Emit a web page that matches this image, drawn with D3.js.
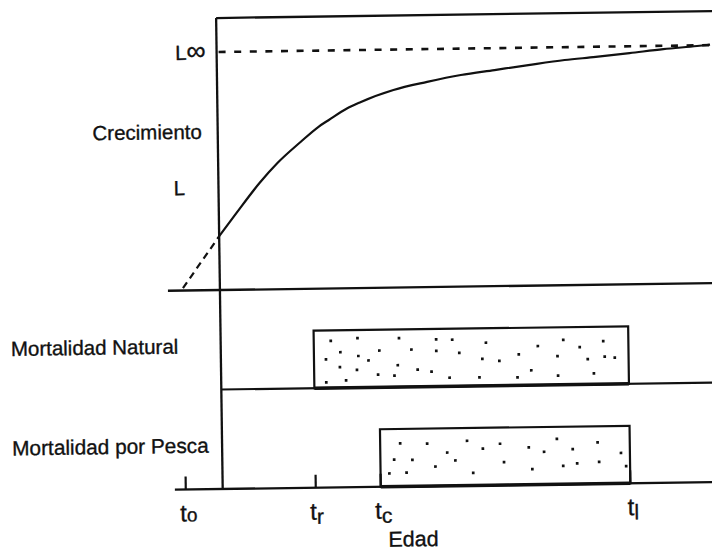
<!DOCTYPE html>
<html>
<head>
<meta charset="utf-8">
<script src="https://cdn.jsdelivr.net/npm/d3@7"></script>
<style>
  html, body { margin: 0; padding: 0; background: #fff; }
  text { font-family: 'Liberation Sans', Arial, sans-serif; fill: #111; stroke: #111; stroke-width: 0.35px; }
</style>
</head>
<body>
<svg id="chart" width="712" height="552"></svg>
<script>
// growth curve (age units are arbitrary, L in % of L-infinity)
const growthAges    = [0, 1.4, 2.1, 3.0, 3.7, 4.6, 5.3, 5.7, 6.4, 6.9, 8.2, 9.5, 10.8, 12.1, 13.4, 14.8, 16.0, 17.3, 18.6, 19.9, 20.4]
const growthLengths = [1, 22.3, 32.3, 44.7, 53.0, 61.7, 68.0, 70.8, 75.5, 78.0, 83.0, 86.2, 88.9, 90.8, 92.7, 94.6, 95.7, 97.1, 98.6, 99.7, 100.2]
const lInf = 100

// ages marked on the x axis
const tickNames = ['t', 't', 't', 't']
const tickSubs  = ['o', 'r', 'c', 'l']
const tickAges  = [0, 5, 7.5, 17.1]

// mortality bars
const mortalityRows  = ['Mortalidad Natural', 'Mortalidad por Pesca']
const mortalityStart = [5, 7.5]
const mortalityEnd   = [17.1, 17.1]

// stipple inside the bars, as fractions of the bar (u across, v down)
const naturalDotsU = [0.054, 0.084, 0.038, 0.139, 0.208, 0.141, 0.173, 0.082, 0.136, 0.266, 0.271, 0.038, 0.101, 0.203, 0.255, 0.31, 0.389, 0.389, 0.44, 0.462, 0.547, 0.535, 0.589, 0.651, 0.712, 0.793, 0.774, 0.845, 0.87, 0.92, 0.924, 0.956, 0.329, 0.373, 0.43, 0.525, 0.646, 0.69, 0.775, 0.889]
const naturalDotsV = [0.18, 0.38, 0.5, 0.14, 0.36, 0.45, 0.53, 0.64, 0.69, 0.62, 0.15, 0.9, 0.87, 0.78, 0.8, 0.35, 0.18, 0.38, 0.19, 0.42, 0.25, 0.53, 0.57, 0.46, 0.32, 0.22, 0.5, 0.35, 0.56, 0.25, 0.52, 0.54, 0.7, 0.74, 0.85, 0.85, 0.86, 0.74, 0.84, 0.81]
const fishingDotsU = [0.08, 0.188, 0.055, 0.128, 0.035, 0.104, 0.22, 0.268, 0.3, 0.348, 0.411, 0.371, 0.48, 0.495, 0.595, 0.656, 0.608, 0.708, 0.771, 0.732, 0.788, 0.871, 0.876, 0.964, 0.984]
const fishingDotsV = [0.25, 0.26, 0.53, 0.54, 0.77, 0.76, 0.66, 0.42, 0.56, 0.22, 0.36, 0.78, 0.28, 0.6, 0.35, 0.43, 0.73, 0.21, 0.39, 0.68, 0.64, 0.28, 0.62, 0.47, 0.7]

const drawChart = () => {
  var svg = d3.select('#chart')

  // the scan is a little tilted, so the whole drawing is turned by the same amount
  var g = svg.append('g').attr('transform', 'rotate(-0.8, 220, 290)')

  var x = d3.scaleLinear().domain([0, 20]).range([183, 703])
  var y = d3.scaleLinear().domain([0, lInf]).range([290, 52])
  var axisAge = 1.42

  var top = 18, growthBase = y(0), bottom = 489
  var rows = d3.scaleBand().domain(mortalityRows).range([growthBase, bottom])
  var barGap = 42

  var ink = '#111'
  var hline = (x0, x1, yy, w) => g.append('line')
    .attr('x1', x0).attr('x2', x1).attr('y1', yy).attr('y2', yy)
    .attr('stroke', ink).attr('stroke-width', w)

  // frame
  hline(x(axisAge), 720, top, 2.3)
  hline(x(-0.58), 720, growthBase, 2.3)
  hline(x(axisAge), 720, rows.bandwidth() + growthBase, 2.2)
  hline(x(-0.42), 720, bottom, 2.3)
  g.append('line')
    .attr('x1', x(axisAge)).attr('x2', x(axisAge))
    .attr('y1', top).attr('y2', bottom)
    .attr('stroke', ink).attr('stroke-width', 2.3)

  // L infinity
  g.append('line')
    .attr('x1', x(axisAge) + 2).attr('x2', 720)
    .attr('y1', y(lInf)).attr('y2', y(lInf))
    .attr('stroke', ink).attr('stroke-width', 2.6)
    .attr('stroke-dasharray', '7,8.6')

  // growth curve, dashed before the axis
  var pts = growthAges.map((a, i) => [a, growthLengths[i]])
  var line = d3.line().x(d => x(d[0])).y(d => y(d[1])).curve(d3.curveMonotoneX)
  g.append('path')
    .attr('d', line(pts.filter(d => d[0] <= axisAge)))
    .attr('fill', 'none').attr('stroke', ink).attr('stroke-width', 2.2)
    .attr('stroke-dasharray', '7,5')
  g.append('path')
    .attr('d', line(pts.filter(d => d[0] >= 1.4)))
    .attr('fill', 'none').attr('stroke', ink).attr('stroke-width', 2.2)

  // mortality bars
  var dots = [[naturalDotsU, naturalDotsV], [fishingDotsU, fishingDotsV]]
  mortalityRows.forEach((name, i) => {
    var y0 = rows(name) + barGap, y1 = rows(name) + rows.bandwidth()
    g.append('rect')
      .attr('x', x(mortalityStart[i])).attr('y', y0)
      .attr('width', x(mortalityEnd[i]) - x(mortalityStart[i]))
      .attr('height', y1 - y0)
      .attr('fill', '#fff').attr('stroke', ink).attr('stroke-width', 2.2)
    hline(x(mortalityStart[i]), x(mortalityEnd[i]), y1, 3.4)

    var u = d3.scaleLinear().range([x(mortalityStart[i]), x(mortalityEnd[i])])
    var v = d3.scaleLinear().range([y0, y1])
    g.selectAll('.dot' + i)
      .data(dots[i][0])
      .enter().append('rect')
      .attr('class', 'dot' + i)
      .attr('x', (d, j) => u(d) - 1.3)
      .attr('y', (d, j) => v(dots[i][1][j]) - 1.3)
      .attr('width', 2.7).attr('height', 2.7)
      .attr('fill', ink)

    g.append('text')
      .attr('x', 10).attr('y', rows(name) + 63)
      .style('font-size', i === 0 ? '20.5px' : '20.8px')
      .text(name)
  })

  // age ticks and labels
  tickAges.forEach((a, i) => {
    g.append('line')
      .attr('x1', x(a)).attr('x2', x(a))
      .attr('y1', bottom - 13).attr('y2', bottom)
      .attr('stroke', ink).attr('stroke-width', 2.2)
    var t = g.append('text')
      .attr('x', x(a) - (i === 3 ? 3 : 6)).attr('y', 521)
      .style('font-size', '24px')
    t.append('tspan').text(tickNames[i])
    t.append('tspan')
      .attr('dy', i === 0 ? 0 : 4)
      .style('font-size', i === 0 ? '19px' : '21px')
      .text(tickSubs[i])
  })

  g.append('text')
    .attr('x', 410).attr('y', 549)
    .attr('text-anchor', 'middle')
    .style('font-size', '21.5px')
    .text('Edad')

  // growth panel labels
  var linf = g.append('text')
    .attr('x', 209).attr('y', 59.5)
    .attr('text-anchor', 'end')
    .style('font-size', '20.5px')
  linf.append('tspan').text('L')
  linf.append('tspan').style('font-size', '27px').text('∞')

  g.append('text')
    .attr('x', 204).attr('y', 138.5)
    .attr('text-anchor', 'end')
    .style('font-size', '20.5px')
    .text('Crecimiento')

  g.append('text')
    .attr('x', 175).attr('y', 194.5)
    .style('font-size', '20.5px')
    .text('L')
}

drawChart()
</script>
</body>
</html>
